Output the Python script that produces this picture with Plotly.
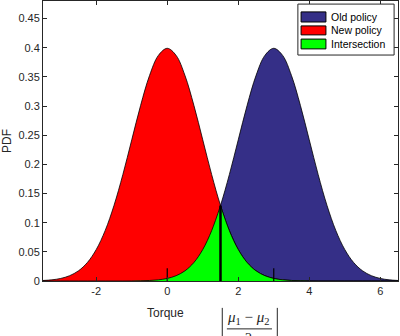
import plotly.graph_objects as go
import numpy as np

# torque grid and the two policy densities
torque = [-3.5, -3.25, -3.0, -2.75, -2.5, -2.25, -2.0, -1.75, -1.5, -1.25,
          -1.0, -0.75, -0.5, -0.25, 0.0, 0.25, 0.5, 0.75, 1.0, 1.25,
          1.5, 1.75, 2.0, 2.25, 2.5, 2.75, 3.0, 3.25, 3.5, 3.75,
          4.0, 4.25, 4.5, 4.75, 5.0, 5.25, 5.5, 5.75, 6.0, 6.25, 6.5]
new_policy = [0.0009, 0.0020, 0.0044, 0.0091, 0.0175, 0.0317, 0.0540, 0.0863, 0.1295, 0.1826,
              0.2420, 0.3011, 0.3521, 0.3867, 0.3989, 0.3867, 0.3521, 0.3011, 0.2420, 0.1826,
              0.1295, 0.0863, 0.0540, 0.0317, 0.0175, 0.0091, 0.0044, 0.0020, 0.0009, 0.0004,
              0.0001, 0.0, 0.0, 0.0, 0.0, 0.0, 0.0, 0.0, 0.0, 0.0, 0.0]
old_policy = [0.0, 0.0, 0.0, 0.0, 0.0, 0.0, 0.0, 0.0, 0.0, 0.0,
              0.0001, 0.0004, 0.0009, 0.0020, 0.0044, 0.0091, 0.0175, 0.0317, 0.0540, 0.0863,
              0.1295, 0.1826, 0.2420, 0.3011, 0.3521, 0.3867, 0.3989, 0.3867, 0.3521, 0.3011,
              0.2420, 0.1826, 0.1295, 0.0863, 0.0540, 0.0317, 0.0175, 0.0091, 0.0044, 0.0020, 0.0009]
means = [0.0, 3.0]
x_ticks = [-2, 0, 2, 4, 6]
y_ticks = [0, 0.05, 0.1, 0.15, 0.2, 0.25, 0.3, 0.35, 0.4, 0.45]
legend_names = ['Old policy', 'New policy', 'Intersection']

BLUE = '#352F87'
colors = [BLUE, '#FF0000', '#00FF00']
font = 'Liberation Sans, Arial, sans-serif'
ink = '#262626'

mid = (means[0] + means[1]) / 2
k = torque.index(mid)
inter = np.minimum(new_policy, old_policy)

fig = go.Figure()
fig.add_trace(go.Scatter(x=torque, y=old_policy, fill='tozeroy', mode='lines',
                         line=dict(color='black', width=0.8, shape='spline'), fillcolor=colors[0]))
fig.add_trace(go.Scatter(x=torque, y=new_policy, fill='tozeroy', mode='lines',
                         line=dict(color='black', width=0.8, shape='spline'), fillcolor=colors[1]))
fig.add_trace(go.Scatter(x=torque[:k + 1], y=inter[:k + 1], fill='tozeroy', mode='lines',
                         line=dict(color='black', width=0.8, shape='spline'), fillcolor=colors[2]))
fig.add_trace(go.Scatter(x=torque[k:], y=inter[k:], fill='tozeroy', mode='lines',
                         line=dict(color='black', width=0.8, shape='spline'), fillcolor=colors[2]))

# mean markers and the crossing line
mx, my = [], []
for m in means:
    mx += [m, m, None]
    my += [0, 0.022, None]
fig.add_trace(go.Scatter(x=mx, y=my, mode='lines', line=dict(color='black', width=1.2)))
fig.add_trace(go.Scatter(x=[mid, mid], y=[0, new_policy[k]], mode='lines',
                         line=dict(color='black', width=2.5)))

# legend box drawn by hand (matlab style)
fig.add_shape(type='rect', xref='paper', yref='paper', x0=0.718, x1=0.989, y0=0.807, y1=0.989,
              line=dict(color=ink, width=1), fillcolor='white')
rows = [(0.925, 0.961, 0.943), (0.879, 0.911, 0.896), (0.829, 0.864, 0.846)]
for name, c, (y0, y1, yt) in zip(legend_names, colors, rows):
    fig.add_shape(type='rect', xref='paper', yref='paper', x0=0.727, x1=0.797, y0=y0, y1=y1,
                  line=dict(color='black', width=1), fillcolor=c)
    fig.add_annotation(x=0.806, y=yt, xref='paper', yref='paper', text=name, showarrow=False,
                       xanchor='left', yanchor='middle', font=dict(size=10.5, color='black'))

fig.add_annotation(x=means[1], y=-0.036, ax=mid, ay=-0.036, xref='x', yref='y', axref='x', ayref='y',
                   showarrow=True, arrowhead=2, arrowside='end+start', arrowsize=1, arrowwidth=2,
                   arrowcolor='black', text='')
fig.add_annotation(x=0.344, y=-0.114, xref='paper', yref='paper', text='Torque', showarrow=False,
                   xanchor='center', yanchor='middle', font=dict(family=font, size=12, color=ink))
fig.add_annotation(x=2.3, y=-0.132, xref='x', yref='paper', showarrow=False,
                   xanchor='center', yanchor='middle',
                   text='<i>μ</i><sub>1</sub> − <i>μ</i><sub>2</sub>',
                   font=dict(family='Liberation Serif, serif', size=15, color=ink))
fig.add_annotation(x=2.3, y=-0.205, xref='x', yref='paper', showarrow=False, text='2',
                   xanchor='center', yanchor='middle',
                   font=dict(family='Liberation Serif, serif', size=14, color=ink))
for xb in [1.55, 3.1]:
    fig.add_shape(type='line', x0=xb, x1=xb, y0=-0.096, y1=-0.2, xref='x', yref='paper',
                  line=dict(color=ink, width=1))
fig.add_shape(type='line', x0=1.68, x1=2.95, y0=-0.171, y1=-0.171, xref='x', yref='paper',
              line=dict(color=ink, width=1))

fig.update_layout(
    width=400, height=336,
    margin=dict(l=43, r=2, t=1, b=55, autoexpand=False),
    plot_bgcolor='white', paper_bgcolor='white',
    font=dict(family=font, size=11, color=ink),
    showlegend=False,
    xaxis=dict(range=[-3.5, 6.5], tickvals=x_ticks, ticktext=[str(t) for t in x_ticks],
               ticks='inside', ticklen=4, showgrid=False, zeroline=False, showline=True,
               linecolor=ink, linewidth=1, mirror='ticks', tickcolor=ink, automargin=False),
    yaxis=dict(range=[0, 0.48], tickvals=y_ticks, ticks='inside', ticklen=4, showgrid=False,
               zeroline=False, showline=True, linecolor=ink, linewidth=1, mirror='ticks',
               tickcolor=ink, automargin=False,
               title=dict(text='PDF', font=dict(size=12), standoff=8)),
)

fig.write_html("out.html", config={'displayModeBar': False},
               post_script="document.body.style.margin='0';")
